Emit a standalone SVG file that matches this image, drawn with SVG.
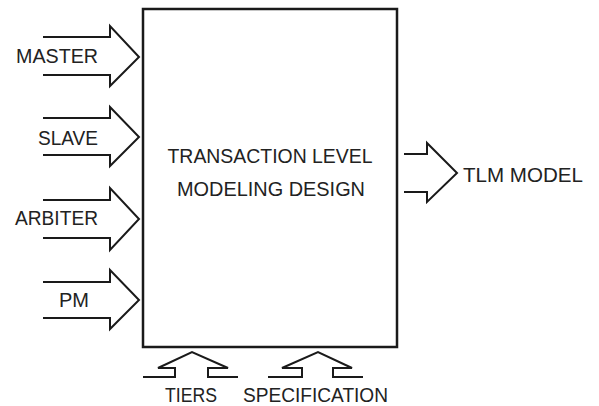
<svg xmlns="http://www.w3.org/2000/svg" width="599" height="406" viewBox="0 0 599 406">
<style>
.ln{fill:none;stroke:#1a1a1a;stroke-width:2;stroke-linejoin:miter}
.bx{fill:#fff;stroke:#1a1a1a;stroke-width:2.5}
.t{font-family:"Liberation Sans",Arial,sans-serif;font-size:20px;fill:#222}
.m{text-anchor:middle}
</style>
<rect width="599" height="406" fill="#fff"/>
<g id="design">
<rect class="bx" x="143" y="9" width="254" height="338"/>
<text class="t m" x="270" y="163" textLength="205" lengthAdjust="spacingAndGlyphs">TRANSACTION LEVEL</text>
<text class="t m" x="271" y="196" textLength="188" lengthAdjust="spacingAndGlyphs">MODELING DESIGN</text>
</g>
<g id="connectors">
<path class="ln" d="M43,37 H110 V26 L139,57 L110,86 V75 H43"/>
<path class="ln" d="M43,118 H110 V107 L139,137 L110,166 V155 H43"/>
<path class="ln" d="M43,200 H110 V188 L139,219 L110,250 V238 H43"/>
<path class="ln" d="M43,282 H110 V270 L139,300 L110,329 V318 H43"/>
<path class="ln" d="M404,154 H427 V143 L457,173 L427,202 V192 H404"/>
<path class="ln" d="M143,377 H175 V368 H158 L192,352 L228,368 H208 V377 H238"/>
<path class="ln" d="M268,377 H302 V368 H282 L318,352 L352,368 H333 V377 H363"/>
</g>
<g id="master"><text class="t" x="16" y="63" textLength="82" lengthAdjust="spacingAndGlyphs">MASTER</text></g>
<g id="slave"><text class="t" x="38" y="145" textLength="60" lengthAdjust="spacingAndGlyphs">SLAVE</text></g>
<g id="arbiter"><text class="t" x="15" y="225" textLength="83" lengthAdjust="spacingAndGlyphs">ARBITER</text></g>
<g id="pm"><text class="t" x="59" y="307" textLength="30" lengthAdjust="spacingAndGlyphs">PM</text></g>
<g id="tlm"><text class="t" x="463" y="182" textLength="120" lengthAdjust="spacingAndGlyphs">TLM MODEL</text></g>
<g id="tiers"><text class="t" x="165" y="402" textLength="52" lengthAdjust="spacingAndGlyphs">TIERS</text></g>
<g id="spec"><text class="t" x="243" y="402" textLength="145" lengthAdjust="spacingAndGlyphs">SPECIFICATION</text></g>
</svg>
